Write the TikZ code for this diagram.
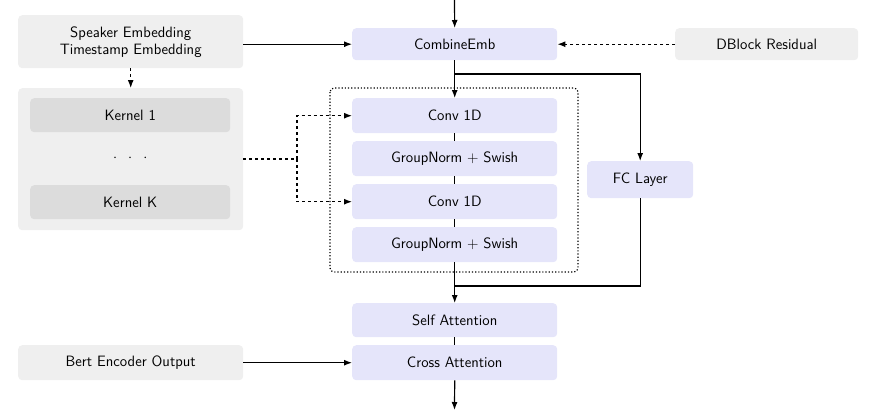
\documentclass[tikz,border=0pt]{standalone}
\usetikzlibrary{arrows.meta}
\definecolor{lav}{HTML}{E5E5FA}
\definecolor{lg}{HTML}{EFEFEF}
\definecolor{dg}{HTML}{DCDCDC}
\begin{document}
\begin{tikzpicture}[x=1pt,y=-1pt,
 box/.style={draw=none,rounded corners=4pt,anchor=north west,inner sep=0pt,font=\sffamily\fontsize{15}{17}\selectfont,align=center},
 blue/.style={box,fill=lav},
 gray/.style={box,fill=lg},
 dark/.style={box,fill=dg},
 arr/.style={-{Latex[length=8pt,width=6pt]},line width=1.2pt},
 ln/.style={line width=1.2pt}]
\useasboundingbox (0,0) rectangle (874,410);
\node[gray,minimum width=225,minimum height=53] (se) at (18,15) {Speaker Embedding\\Timestamp Embedding};
\node[blue,minimum width=205,minimum height=32] (ce) at (352,28) {CombineEmb};
\node[gray,minimum width=183,minimum height=32] (db) at (675,28) {DBlock Residual};
\node[gray,minimum width=225,minimum height=142] (kc) at (18,88) {};
\node[dark,minimum width=200,minimum height=34] (k1) at (30,98) {Kernel 1};
\node[box,minimum width=200,minimum height=20] (dots) at (30,148) {$\cdot\;\;\cdot\;\;\cdot$};
\node[dark,minimum width=200,minimum height=34] (kk) at (30,185) {Kernel K};
\draw[dotted,line width=1.2pt,rounded corners=4pt] (330,88) rectangle (578,272);
\node[blue,minimum width=205,minimum height=35] (c1) at (352,98) {Conv 1D};
\node[blue,minimum width=205,minimum height=35] (g1) at (352,141) {GroupNorm + Swish};
\node[blue,minimum width=205,minimum height=35] (c2) at (352,184) {Conv 1D};
\node[blue,minimum width=205,minimum height=35] (g2) at (352,227) {GroupNorm + Swish};
\node[blue,minimum width=106,minimum height=37] (fc) at (587,161) {FC Layer};
\node[blue,minimum width=205,minimum height=34] (sa) at (352,303) {Self Attention};
\node[blue,minimum width=205,minimum height=35] (ca) at (352,345) {Cross Attention};
\node[gray,minimum width=225,minimum height=35] (be) at (18,345) {Bert Encoder Output};
\coordinate (top) at (454.5,0);
\coordinate (bot) at (454.5,410);
\coordinate (sp) at (454.5,74);
\coordinate (jn) at (454.5,286);
\coordinate (kj) at (297,159);
\draw[arr] (top) -- (ce.north);
\draw[arr] (se.east |- ce.west) -- (ce.west);
\draw[arr,dashed] (db.west) -- (ce.east);
\draw[arr,dashed] (se.south) -- (kc.north);
\draw[arr] (ce.south) -- (c1.north);
\draw[ln] (c1.south) -- (g1.north);
\draw[ln] (g1.south) -- (c2.north);
\draw[ln] (c2.south) -- (g2.north);
\draw[arr] (g2.south) -- (sa.north);
\draw[arr] (sp) -| (fc.north);
\draw[ln] (fc.south) |- (jn);
\draw[ln] (sa.south) -- (ca.north);
\draw[arr] (ca.south) -- (bot);
\draw[arr] (be.east) -- (ca.west);
\draw[ln,dashed] (kc.east |- kj) -- (kj);
\draw[arr,dashed] (kj) |- (c1.west);
\draw[arr,dashed] (kj) |- (c2.west);
\end{tikzpicture}
\end{document}
